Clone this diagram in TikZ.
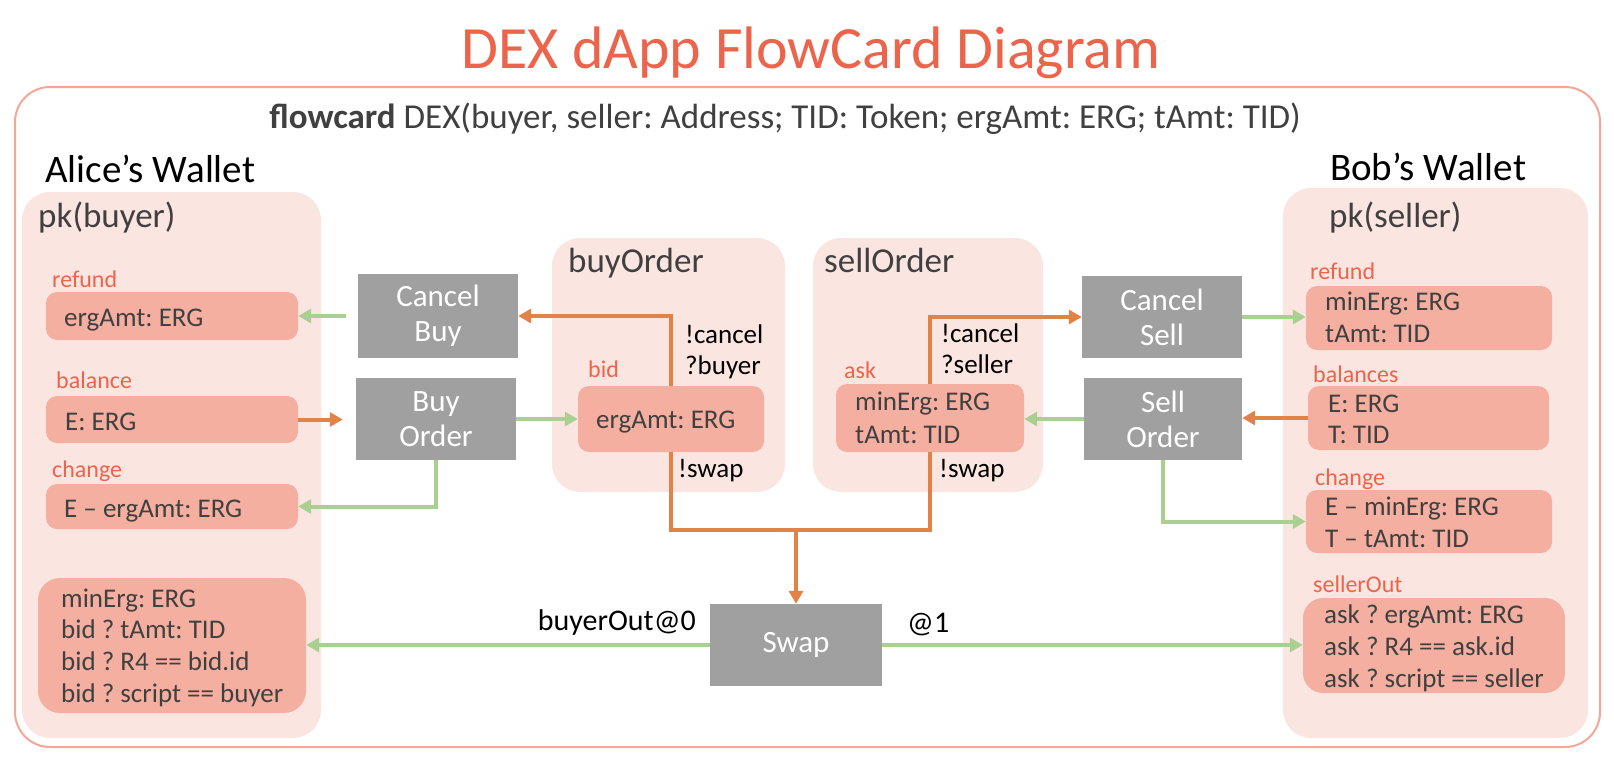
\documentclass[tikz,border=0pt]{standalone}
\usepackage{fontspec}
\setmainfont{Carlito}
\usetikzlibrary{arrows.meta}
\definecolor{coral}{RGB}{236,100,75}
\definecolor{framec}{RGB}{243,167,151}
\definecolor{pale}{RGB}{251,229,225}
\definecolor{itemc}{RGB}{245,175,160}
\definecolor{greyc}{RGB}{160,160,160}
\definecolor{orangec}{RGB}{226,130,68}
\definecolor{greenc}{RGB}{170,208,145}
\definecolor{dark}{RGB}{64,64,64}
\newcommand{\myfs}[2]{\fontsize{#1}{#2}\selectfont}
\newcommand{\pbox}[6]{\node[#1, minimum width={(#5-#3)*1pt}, minimum height={(#6-#4)*1pt}] (#2) at ({(#3+#5)/2},{(#4+#6)/2}) {};}
\newcommand{\abox}[7]{\node[#1, minimum width={(#5-#3)*1pt}, minimum height={(#6-#4)*1pt}] (#2) at ({(#3+#5)/2},{(#4+#6)/2}) {#7};}
\tikzset{
  frame/.style={draw=framec, line width=2pt, rounded corners=35pt, inner sep=0pt},
  pane/.style={fill=pale, draw=none, rounded corners=28pt, inner sep=0pt},
  item/.style={fill=itemc, draw=none, rounded corners=11pt, inner sep=0pt},
  act/.style={fill=greyc, draw=none, text=white, inner sep=0pt, align=center, font=\myfs{31}{35}},
  lbl/.style={text=coral, font=\myfs{24}{28}, anchor=base west, inner sep=0pt},
  itxt/.style={text=dark, font=\myfs{27}{32}, anchor=base west, inner sep=0pt},
  ptxt/.style={text=dark, font=\myfs{35}{40}, anchor=base west, inner sep=0pt},
  ctxt/.style={text=black, font=\myfs{27}{31}, anchor=base west, inner sep=0pt},
  otxt/.style={text=black, font=\myfs{30}{34}, inner sep=0pt},
  wtxt/.style={text=black, font=\myfs{39}{44}, anchor=base west, inner sep=0pt},
  oline/.style={draw=orangec, line width=4pt},
  oarr/.style={draw=orangec, line width=4pt, -{Triangle[length=13pt,width=14pt]}},
  garr/.style={draw=greenc, line width=4pt, -{Triangle[length=13pt,width=14pt]}}
}
\frenchspacing
\begin{document}
\begin{tikzpicture}[x=1pt,y=-1pt]
\useasboundingbox (0,0) rectangle (1614,760);
\fill[white] (0,0) rectangle (1614,760);
% title and frame
\node[font=\myfs{60}{70}, text=coral, anchor=base, inner sep=0pt] (title) at (811,68) {DEX dApp FlowCard Diagram};
\pbox{frame}{outer}{15}{87}{1600}{747}
\node[font=\myfs{35}{40}, text=dark, anchor=base, inner sep=0pt] (sig) at (785,128) {\textbf{flowcard} DEX(buyer, seller: Address; TID: Token; ergAmt: ERG; tAmt: TID)};
% Alice
\node[wtxt] (alicet) at (45,182) {Alice’s Wallet};
\pbox{pane}{alice}{22}{192}{321}{738}
\node[ptxt] (pkb) at (38,227) {pk(buyer)};
\node[lbl] (l1) at (52,287) {refund};
\pbox{item}{arefund}{46}{292}{298}{340}
\node[itxt] (t1) at (64,326) {ergAmt: ERG};
\node[lbl] (l2) at (56,388) {balance};
\pbox{item}{abal}{46}{396}{298}{443}
\node[itxt] (t2) at (65,430) {E: ERG};
\node[lbl] (l3) at (52,477) {change};
\pbox{item}{achange}{46}{484}{298}{529}
\node[itxt] (t3) at (64,517) {E \textendash{} ergAmt: ERG};
\pbox{item, rounded corners=22pt}{aout}{38}{578}{306}{713}
\node[itxt] (t4) at (61,607) {minErg: ERG};
\node[itxt] (t5) at (61,638) {bid ? tAmt: TID};
\node[itxt] (t6) at (61,670) {bid ? R4 == bid.id};
\node[itxt] (t7) at (61,702) {bid ? script == buyer};
% buyOrder
\pbox{pane}{buyo}{552}{238}{785}{492}
\node[ptxt] (buyot) at (568,272) {buyOrder};
\node[lbl] (l4) at (588,377) {bid};
\pbox{item}{bid}{578}{386}{764}{452}
\node[itxt] (t8) at (596,428) {ergAmt: ERG};
\node[ctxt] (c1) at (685,343) {!cancel};
\node[ctxt] (c2) at (685,374) {?buyer};
\node[ctxt] (c3) at (678,477) {!swap};
% sellOrder
\pbox{pane}{sello}{813}{238}{1043}{492}
\node[ptxt] (sellot) at (824,272) {sellOrder};
\node[lbl] (l5) at (844,378) {ask};
\pbox{item}{ask}{836}{384}{1024}{452}
\node[itxt] (t9) at (855,410) {minErg: ERG};
\node[itxt] (t10) at (855,443) {tAmt: TID};
\node[ctxt] (c4) at (941,342) {!cancel};
\node[ctxt] (c5) at (941,373) {?seller};
\node[ctxt] (c6) at (939,477) {!swap};
% Bob
\node[wtxt] (bobt) at (1330,180) {Bob’s Wallet};
\pbox{pane}{bob}{1283}{188}{1588}{738}
\node[ptxt] (pks) at (1329,227) {pk(seller)};
\node[lbl] (l6) at (1310,279) {refund};
\pbox{item}{brefund}{1306}{286}{1552}{350}
\node[itxt] (t11) at (1325,310) {minErg: ERG};
\node[itxt] (t12) at (1325,342) {tAmt: TID};
\node[lbl] (l7) at (1313,382) {balances};
\pbox{item}{bbal}{1308}{386}{1549}{450}
\node[itxt] (t13) at (1328,412) {E: ERG};
\node[itxt] (t14) at (1328,443) {T: TID};
\node[lbl] (l8) at (1315,485) {change};
\pbox{item}{bchange}{1306}{490}{1552}{553}
\node[itxt] (t15) at (1325,515) {E \textendash{} minErg: ERG};
\node[itxt] (t16) at (1325,547) {T \textendash{} tAmt: TID};
\node[lbl] (l9) at (1313,592) {sellerOut};
\pbox{item, rounded corners=20pt}{bout}{1303}{598}{1565}{693}
\node[itxt] (t17) at (1324,623) {ask ? ergAmt: ERG};
\node[itxt] (t18) at (1324,655) {ask ? R4 == ask.id};
\node[itxt] (t19) at (1324,687) {ask ? script == seller};
% actions
\abox{act}{cbuy}{358}{274}{518}{358}{Cancel\\Buy}
\abox{act}{border}{356}{378}{516}{460}{Buy\\Order}
\abox{act}{csell}{1082}{276}{1242}{358}{Cancel\\Sell}
\abox{act}{sorder}{1084}{378}{1242}{460}{Sell\\Order}
\abox{act}{swap}{710}{604}{882}{686}{Swap}
\coordinate (j) at (796,530);
% orange connectors
\draw[oarr] (bid.north) |- (cbuy.east);
\draw[oarr] (ask.north) |- (csell.west);
\draw[oline] (bid.south) |- (j) -| (ask.south);
\draw[oarr] (j) -- (swap.north);
\draw[oarr, shorten >=13pt] (abal.east) -- (abal.east -| border.west);
\draw[oarr] (bbal.west) -- (bbal.west -| sorder.east);
% green connectors
\draw[garr, shorten <=12pt] (cbuy.west) -- (arefund.east);
\draw[garr] (border.east) -- (border.east -| bid.west);
\draw[garr] (border.south) |- (achange.east);
\draw[garr] (csell.east) -- (csell.east -| brefund.west);
\draw[garr] (sorder.west) -- (sorder.west -| ask.east);
\draw[garr] (sorder.south) |- (bchange.west);
\draw[garr] (swap.west) -- (swap.west -| aout.east);
\draw[garr] (swap.east) -- (swap.east -| bout.west);
\node[otxt, anchor=base east] (bo) at (696,630) {buyerOut@0};
\node[otxt, anchor=base west] (so) at (907,632) {@1};
\end{tikzpicture}
\end{document}
